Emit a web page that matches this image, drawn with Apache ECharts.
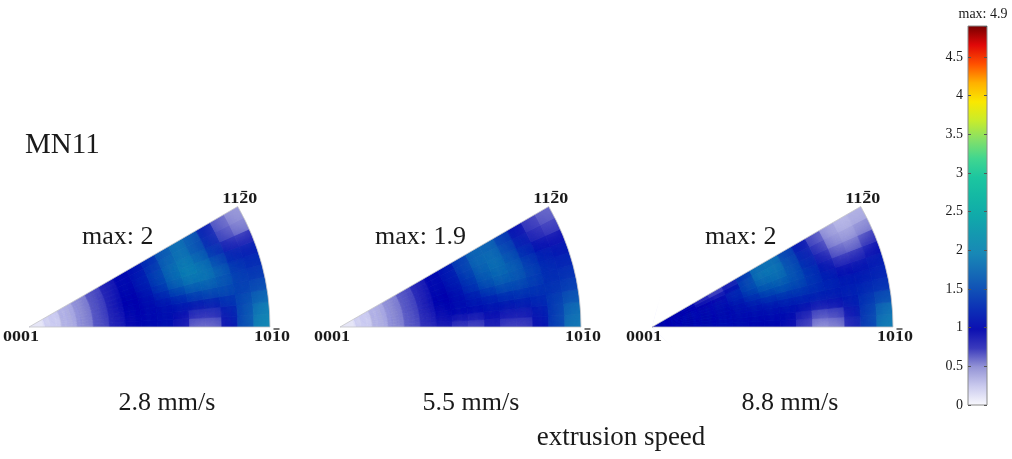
<!DOCTYPE html>
<html>
<head>
<meta charset="utf-8">
<script src="https://cdn.jsdelivr.net/npm/echarts@6/dist/echarts.min.js"></script>
<style>
html,body{margin:0;padding:0;background:#fff;}
#chart{width:1012px;height:459px;}
</style>
</head>
<body>
<div id="chart"></div>
<script>
// Bin edges of the inverse pole figure: radial fraction from 0001 to the outer arc, polar angle in degrees
const radialEdges = [0, 0.0667, 0.1333, 0.2, 0.2667, 0.3333, 0.4, 0.4667, 0.5333, 0.6, 0.6667, 0.7333, 0.8, 0.8667, 0.9333, 1];
const angleEdges = [0, 3, 6, 9, 12, 15, 18, 21, 24, 27, 30];

// Texture intensity (m.r.d.), one row per 3-degree angular bin (0-3 deg first), columns from 0001 outwards
const density28 = [
  [0.10, 0.20, 0.33, 0.48, 0.65, 0.82, 0.95, 1.02, 1.05, 0.90, 0.55, 0.55, 1.00, 1.55, 2.00],
  [0.10, 0.20, 0.33, 0.48, 0.65, 0.82, 0.95, 1.02, 1.05, 0.95, 0.72, 0.72, 1.05, 1.55, 1.95],
  [0.10, 0.20, 0.33, 0.48, 0.66, 0.83, 0.96, 1.03, 1.05, 1.05, 1.00, 1.05, 1.25, 1.50, 1.75],
  [0.10, 0.20, 0.33, 0.48, 0.66, 0.84, 0.97, 1.05, 1.10, 1.20, 1.35, 1.45, 1.50, 1.40, 1.50],
  [0.10, 0.20, 0.33, 0.48, 0.66, 0.85, 0.98, 1.05, 1.20, 1.45, 1.65, 1.70, 1.60, 1.40, 1.35],
  [0.10, 0.20, 0.33, 0.48, 0.66, 0.85, 1.00, 1.10, 1.35, 1.70, 1.90, 1.90, 1.70, 1.35, 1.25],
  [0.10, 0.20, 0.33, 0.48, 0.66, 0.85, 1.00, 1.15, 1.45, 1.80, 2.00, 1.90, 1.55, 1.20, 1.15],
  [0.10, 0.20, 0.33, 0.48, 0.66, 0.85, 1.00, 1.15, 1.45, 1.80, 1.95, 1.75, 1.30, 0.90, 0.85],
  [0.10, 0.20, 0.33, 0.48, 0.66, 0.85, 1.00, 1.10, 1.35, 1.70, 1.85, 1.60, 1.15, 0.65, 0.50],
  [0.10, 0.20, 0.33, 0.48, 0.66, 0.85, 0.98, 1.05, 1.25, 1.60, 1.80, 1.65, 1.10, 0.60, 0.45]
];
const density55 = [
  [0.10, 0.20, 0.33, 0.48, 0.62, 0.75, 0.85, 0.70, 0.65, 0.85, 0.68, 0.68, 1.00, 1.40, 1.85],
  [0.10, 0.20, 0.33, 0.48, 0.62, 0.77, 0.90, 0.85, 0.80, 0.95, 0.85, 0.85, 1.05, 1.40, 1.80],
  [0.10, 0.20, 0.33, 0.48, 0.63, 0.78, 0.92, 1.00, 1.00, 1.05, 1.05, 1.10, 1.20, 1.40, 1.60],
  [0.10, 0.20, 0.33, 0.48, 0.63, 0.80, 0.95, 1.05, 1.10, 1.15, 1.25, 1.30, 1.30, 1.30, 1.40],
  [0.10, 0.20, 0.33, 0.48, 0.64, 0.80, 0.97, 1.05, 1.15, 1.35, 1.50, 1.50, 1.40, 1.25, 1.30],
  [0.10, 0.20, 0.33, 0.48, 0.64, 0.82, 0.98, 1.08, 1.30, 1.55, 1.70, 1.65, 1.45, 1.25, 1.20],
  [0.10, 0.20, 0.33, 0.48, 0.64, 0.82, 1.00, 1.12, 1.35, 1.65, 1.80, 1.70, 1.40, 1.20, 1.10],
  [0.10, 0.20, 0.33, 0.48, 0.64, 0.82, 1.00, 1.12, 1.40, 1.70, 1.85, 1.60, 1.25, 1.00, 0.95],
  [0.10, 0.20, 0.33, 0.48, 0.64, 0.82, 1.00, 1.12, 1.45, 1.75, 1.80, 1.50, 1.10, 0.80, 0.70],
  [0.10, 0.20, 0.33, 0.48, 0.64, 0.82, 0.98, 1.08, 1.40, 1.70, 1.70, 1.40, 1.00, 0.70, 0.60]
];
const density88 = [
  [1.05, 1.08, 1.10, 1.10, 1.08, 1.05, 1.00, 1.00, 0.95, 0.70, 0.42, 0.48, 0.85, 1.40, 1.90],
  [1.05, 1.08, 1.10, 1.10, 1.08, 1.05, 1.02, 1.02, 1.00, 0.80, 0.58, 0.62, 0.95, 1.40, 1.85],
  [1.05, 1.08, 1.10, 1.10, 1.10, 1.08, 1.05, 1.05, 1.05, 1.00, 0.90, 0.95, 1.10, 1.35, 1.55],
  [1.05, 1.08, 1.10, 1.10, 1.10, 1.10, 1.10, 1.12, 1.15, 1.15, 1.15, 1.15, 1.20, 1.25, 1.30],
  [1.05, 1.08, 1.10, 1.10, 1.10, 1.12, 1.18, 1.25, 1.30, 1.35, 1.30, 1.25, 1.15, 1.15, 1.20],
  [1.05, 1.08, 1.10, 1.08, 1.10, 1.18, 1.30, 1.45, 1.55, 1.50, 1.35, 1.15, 1.00, 1.05, 1.15],
  [1.05, 1.08, 1.08, 1.05, 1.08, 1.25, 1.45, 1.65, 1.70, 1.60, 1.35, 1.05, 0.80, 0.85, 1.00],
  [1.05, 1.05, 1.02, 1.00, 1.00, 1.25, 1.55, 1.80, 1.85, 1.60, 1.25, 0.90, 0.60, 0.55, 0.75],
  [1.05, 1.02, 0.95, 0.85, 0.82, 1.00, 1.50, 1.90, 1.90, 1.55, 1.15, 0.75, 0.45, 0.40, 0.50],
  [1.05, 1.00, 0.90, 0.72, 0.62, 0.82, 1.35, 1.80, 1.80, 1.45, 1.05, 0.65, 0.40, 0.30, 0.35]
];

const figureMax = ['max: 2', 'max: 1.9', 'max: 2'];
const speedLabels = ['2.8 mm/s', '5.5 mm/s', '8.8 mm/s'];
// pole labels; barIndex marks the digit that carries an overbar
const poleLabels = [
  { text: '0001', barIndex: -1 },
  { text: '1010', barIndex: 2 },
  { text: '1120', barIndex: 2 }
];

// Colour scale: 0 .. 4.9, evenly spaced stops
const scaleMax = 4.9;
const scaleColors = [
  '#f8f8fd', '#cacaee', '#9494d6', '#3a3abc', '#0c10b2', '#0c2eb6', '#104eb6',
  '#156cb6', '#1888b6', '#1498b0', '#10aaaa', '#14b8a4', '#1cc6a0', '#40d690',
  '#84e068', '#c8ec2c', '#fae800', '#ffb000', '#ff5000', '#e00808', '#780000'
];

const SERIF = '"Liberation Serif", "Times New Roman", serif';
const figures = [density28, density55, density88];
const centers = [[29, 327], [340, 327], [652, 327]];
const R = 241;
const SOFTEN = 20;      // blur radius used to smooth the cell borders
const OFFSCREEN = 3000; // cells are drawn off-canvas so only their blurred shadow lands in place
const MASK_PAD = 40;

function cellData(grid) {
  const out = [];
  for (let a = 0; a < grid.length; a++) {
    for (let r = 0; r < grid[a].length; r++) {
      out.push([radialEdges[r], radialEdges[r + 1], angleEdges[a], angleEdges[a + 1], grid[a][r]]);
    }
  }
  return out;
}

function sectorShape(params, api, r0v, r1v, a0v, a1v) {
  const cs = params.coordSys;
  const cx = cs.cx, cy = cs.cy;
  const pIn = api.coord([r0v, a0v]);
  const pOut = api.coord([r1v, a0v]);
  const pTop = api.coord([r1v, a1v]);
  return {
    cx: cx, cy: cy,
    r0: Math.hypot(pIn[0] - cx, pIn[1] - cy),
    r: Math.hypot(pOut[0] - cx, pOut[1] - cy),
    startAngle: Math.atan2(pTop[1] - cy, pTop[0] - cx),
    endAngle: Math.atan2(pOut[1] - cy, pOut[0] - cx),
    clockwise: true
  };
}

function cellShape(params, api) {
  return sectorShape(params, api, api.value(0), api.value(1), api.value(2), api.value(3));
}

// Solid heat cells
function renderCell(params, api) {
  const color = api.visual('color');
  return { type: 'sector', shape: cellShape(params, api), style: { fill: color, stroke: color, lineWidth: 0.7 } };
}

// Blurred copy of each cell laid over the solid ones to soften the borders
function renderSoftCell(params, api) {
  const color = api.visual('color');
  const shape = cellShape(params, api);
  shape.cx += OFFSCREEN;
  return {
    type: 'sector', shape: shape,
    style: { fill: color, shadowBlur: SOFTEN, shadowColor: color, shadowOffsetX: -OFFSCREEN, shadowOffsetY: 0 }
  };
}

// White surround that trims the blur back to the triangle, plus a faint rim
function renderFrame(params, api) {
  const full = sectorShape(params, api, 0, 1, 0, 30);
  const top = full.startAngle, bottom = full.endAngle;
  const side = Math.PI / 4;
  const cx = full.cx, cy = full.cy, rOut = full.r + MASK_PAD;
  const white = { fill: '#ffffff' };
  return {
    type: 'group',
    children: [
      { type: 'sector', shape: { cx: cx, cy: cy, r0: 0, r: rOut, startAngle: top - side, endAngle: top, clockwise: true }, style: white },
      { type: 'sector', shape: { cx: cx, cy: cy, r0: 0, r: rOut, startAngle: bottom, endAngle: bottom + side, clockwise: true }, style: white },
      { type: 'sector', shape: { cx: cx, cy: cy, r0: full.r, r: rOut, startAngle: top - side, endAngle: bottom + side, clockwise: true }, style: white },
      { type: 'sector', shape: { cx: cx, cy: cy, r0: 0, r: MASK_PAD, startAngle: bottom + side, endAngle: top - side + 2 * Math.PI, clockwise: true }, style: white },
      { type: 'sector', shape: full, style: { fill: 'none', stroke: '#c4c4c8', lineWidth: 0.8 } }
    ]
  };
}

function renderColorbar(params, api) {
  const p0 = api.coord([api.value(0), api.value(2)]);
  const p1 = api.coord([api.value(1), api.value(3)]);
  const stops = scaleColors.map((c, i) => ({ offset: i / (scaleColors.length - 1), color: c }));
  return {
    type: 'rect',
    shape: { x: p0[0], y: p1[1], width: p1[0] - p0[0], height: p0[1] - p1[1] },
    style: { fill: new echarts.graphic.LinearGradient(0, 1, 0, 0, stops) }
  };
}

const chart = echarts.init(document.getElementById('chart'), null, { renderer: 'canvas' });

const polar = centers.map(c => ({ center: c, radius: R }));
const angleAxis = centers.map((c, i) => ({
  polarIndex: i, type: 'value', min: 0, max: 360, startAngle: 0, clockwise: false, show: false
}));
const radiusAxis = centers.map((c, i) => ({ polarIndex: i, type: 'value', min: 0, max: 1, show: false }));

const series = [];
const heatSeriesIdx = [];
figures.forEach((g, i) => {
  heatSeriesIdx.push(series.length);
  series.push({
    type: 'custom', coordinateSystem: 'polar', polarIndex: i,
    renderItem: renderCell, encode: { radius: [0, 1], angle: [2, 3] },
    data: cellData(g), silent: true, animation: false, clip: false, z: 1
  });
  heatSeriesIdx.push(series.length);
  series.push({
    type: 'custom', coordinateSystem: 'polar', polarIndex: i,
    renderItem: renderSoftCell, encode: { radius: [0, 1], angle: [2, 3] },
    data: cellData(g), silent: true, animation: false, clip: false, z: 2
  });
  series.push({
    type: 'custom', coordinateSystem: 'polar', polarIndex: i,
    renderItem: renderFrame, encode: { radius: [0, 1], angle: [2, 3] },
    data: [[0, 1, 0, 30, 0]], silent: true, animation: false, clip: false, z: 3
  });
});
series.push({
  type: 'custom', coordinateSystem: 'cartesian2d', xAxisIndex: 0, yAxisIndex: 0,
  renderItem: renderColorbar, data: [[0, 1, 0, scaleMax]], silent: true, animation: false, z: 4
});

const axisTickStyle = { show: true, inside: true, length: 3, lineStyle: { color: '#555', width: 1 } };

chart.setOption({
  backgroundColor: '#ffffff',
  animation: false,
  polar: polar,
  angleAxis: angleAxis,
  radiusAxis: radiusAxis,
  grid: [{ left: 968, top: 26, width: 19, height: 379, show: true, borderColor: '#8a8a8a', borderWidth: 1, backgroundColor: 'transparent', z: 5 }],
  xAxis: [{ gridIndex: 0, type: 'value', min: 0, max: 1, show: false }],
  yAxis: [
    {
      gridIndex: 0, type: 'value', min: 0, max: scaleMax, interval: 0.5, position: 'left', z: 6,
      axisLine: { show: false }, axisTick: axisTickStyle, splitLine: { show: false },
      axisLabel: { showMaxLabel: false, margin: 5, fontFamily: SERIF, fontSize: 14, color: '#1a1a1a' }
    },
    {
      gridIndex: 0, type: 'value', min: 0, max: scaleMax, interval: 0.5, position: 'right', z: 6,
      axisLine: { show: false }, axisTick: axisTickStyle, splitLine: { show: false },
      axisLabel: { show: false }
    }
  ],
  visualMap: {
    type: 'continuous', show: false, min: 0, max: scaleMax, dimension: 4,
    seriesIndex: heatSeriesIdx, inRange: { color: scaleColors }
  },
  series: series
});

// Text: pole labels anchored at the corners of each triangle, plus titles
function toPixel(i, rad, ang) {
  try {
    const p = chart.convertToPixel({ polarIndex: i }, [rad, ang]);
    if (p && isFinite(p[0])) return p;
  } catch (e) {}
  const t = ang * Math.PI / 180;
  return [centers[i][0] + R * rad * Math.cos(t), centers[i][1] - R * rad * Math.sin(t)];
}

function txt(x, y, text, size, opts) {
  opts = opts || {};
  return {
    type: 'text', x: x, y: y, silent: true, scaleX: opts.scaleX || 1, z: 100,
    style: {
      text: text, fill: opts.fill || '#1a1a1a',
      font: (opts.weight || 'normal') + ' ' + size + 'px ' + SERIF,
      align: opts.align || 'center', verticalAlign: 'middle'
    }
  };
}

const POLE_SIZE = 15, POLE_SCALE = 1.2;
function poleLabel(x, y, label, out) {
  out.push(txt(x, y, label.text, POLE_SIZE, { weight: 'bold', scaleX: POLE_SCALE }));
  if (label.barIndex >= 0) {
    const digitW = POLE_SIZE * 0.5 * POLE_SCALE;
    const left = x - digitW * label.text.length / 2 + digitW * label.barIndex;
    out.push({
      type: 'line', silent: true, z: 100,
      shape: { x1: left + 1.5, y1: y - 8, x2: left + digitW - 1.5, y2: y - 8 },
      style: { stroke: '#1a1a1a', lineWidth: 1.2 }
    });
  }
}

const texts = [];
const maxLeft = [82, 375, 705];
const speedX = [167, 471, 790];
centers.forEach((c, i) => {
  const apex = toPixel(i, 0, 0);
  const right = toPixel(i, 1, 0);
  const top = toPixel(i, 1, 30);
  poleLabel(apex[0] - 8, apex[1] + 10, poleLabels[0], texts);
  poleLabel(right[0] + 2, right[1] + 10, poleLabels[1], texts);
  poleLabel(top[0] + 2, top[1] - 7, poleLabels[2], texts);
  texts.push(txt(maxLeft[i], 237, figureMax[i], 26, { align: 'left' }));
  texts.push(txt(speedX[i], 403, speedLabels[i], 26));
});
texts.push(txt(25, 145, 'MN11', 29, { align: 'left' }));
texts.push(txt(621, 438, 'extrusion speed', 27));
texts.push(txt(983, 14, 'max: 4.9', 14));

chart.setOption({ graphic: texts });
</script>
</body>
</html>
